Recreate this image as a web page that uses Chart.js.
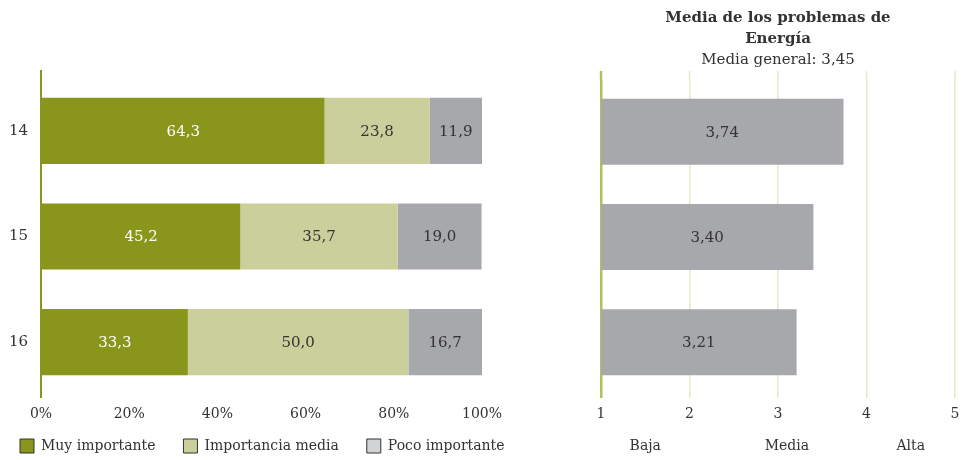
<!DOCTYPE html>
<html>
<head>
<meta charset="utf-8">
<script src="https://cdn.jsdelivr.net/npm/chart.js@4/dist/chart.umd.min.js"></script>
<style>
  html, body { margin: 0; padding: 0; background: #fff; }
  body { width: 962px; height: 460px; position: relative; overflow: hidden; }
  #leftWrap { position: absolute; left: 0; top: 0; width: 525px; height: 460px; }
  #legendWrap { position: absolute; left: 0; top: 340px; width: 560px; height: 120px; }
  #rightWrap { position: absolute; left: 594px; top: 0; width: 368px; height: 460px; }
</style>
</head>
<body>
<div id="leftWrap"><canvas id="left"></canvas></div>
<div id="legendWrap"><canvas id="legend"></canvas></div>
<div id="rightWrap"><canvas id="right"></canvas></div>
<script>
// ---- data ----
const categories = ['14', '15', '16'];
const seriesNames = ['Muy importante', 'Importancia media', 'Poco importante'];
const muyImportante = [64.3, 45.2, 33.3];
const importanciaMedia = [23.8, 35.7, 50.0];
const pocoImportante = [11.9, 19.0, 16.7];
const mediaValues = [3.74, 3.40, 3.21];
const mediaGeneral = 3.45;
const titleLines = ['Media de los problemas de', 'Energía'];
const scaleWords = ['Baja', 'Media', 'Alta'];
const scaleWordPositions = [1.5, 3.1, 4.5];

// ---- style ----
const FONT = 'DejaVu Serif';
const TEXT = '#333333';
const OLIVE = '#8a961b';
const LIGHT = '#cbcf9c';
const GRAY = '#a7a8ab';
const LEGEND_GRAY = '#d2d3d5';
const RIGHT_AXIS = '#b3c05a';
const RIGHT_GRID = '#e4e9c8';

Chart.defaults.font.family = FONT;
Chart.defaults.font.size = 14;
Chart.defaults.color = TEXT;
Chart.defaults.animation = false;
Chart.defaults.responsive = true;
Chart.defaults.maintainAspectRatio = false;

const fmt = (v, d) => v.toFixed(d).replace('.', ',');

// draws values centered in bars
const barLabels = {
  id: 'barLabels',
  afterDatasetsDraw(chart, args, opts) {
    const ctx = chart.ctx;
    const left = chart.chartArea.left;
    ctx.save();
    ctx.font = `${opts.size || 14}px "${FONT}"`;
    ctx.textAlign = 'center';
    ctx.textBaseline = 'middle';
    chart.data.datasets.forEach((ds, di) => {
      const meta = chart.getDatasetMeta(di);
      meta.data.forEach((el, i) => {
        const v = ds.data[i];
        const base = Math.max(el.base, left);
        ctx.fillStyle = (opts.colors && opts.colors[di]) || TEXT;
        ctx.fillText(fmt(v, opts.decimals), (el.x + base) / 2, el.y + 1);
      });
    });
    ctx.restore();
  }
};

// extends vertical grid lines a little above the plot area
const gridExtend = {
  id: 'gridExtend',
  afterDraw(chart, args, opts) {
    const xs = chart.scales.x;
    const ctx = chart.ctx;
    const top = chart.chartArea.top;
    ctx.save();
    xs.ticks.forEach((t) => {
      const c = opts.color(t.value);
      if (!c) return;
      const x = xs.getPixelForValue(t.value);
      ctx.strokeStyle = c;
      ctx.lineWidth = opts.width(t.value);
      ctx.beginPath();
      ctx.moveTo(x, top - 8);
      ctx.lineTo(x, top);
      ctx.stroke();
    });
    ctx.restore();
  }
};

// words under the right axis
const scaleWordsPlugin = {
  id: 'scaleWords',
  afterDraw(chart) {
    const xs = chart.scales.x;
    const ctx = chart.ctx;
    ctx.save();
    ctx.font = `14px "${FONT}"`;
    ctx.fillStyle = TEXT;
    ctx.textAlign = 'center';
    ctx.textBaseline = 'middle';
    scaleWords.forEach((w, i) => {
      ctx.fillText(w, xs.getPixelForValue(scaleWordPositions[i]), 446);
    });
    ctx.restore();
  }
};

// ---- left chart ----
const leftColors = [OLIVE, LIGHT, GRAY];
const legendFills = [OLIVE, LIGHT, LEGEND_GRAY];
const leftDatasets = (hidden) => [muyImportante, importanciaMedia, pocoImportante].map((d, i) => ({
  label: seriesNames[i],
  data: d,
  hidden: hidden,
  backgroundColor: leftColors[i],
  borderWidth: 0,
  barPercentage: 0.626,
  categoryPercentage: 1.0
}));

new Chart(document.getElementById('left'), {
  type: 'bar',
  data: { labels: categories, datasets: leftDatasets(false) },
  options: {
    indexAxis: 'y',
    layout: { padding: { left: 0, right: 43, top: 78, bottom: 0 } },
    scales: {
      x: {
        stacked: true, min: 0, max: 100,
        ticks: { stepSize: 20, padding: 8, callback: (v) => v + '%', font: { size: 14 }, color: TEXT },
        grid: {
          drawTicks: true, tickLength: 3,
          color: (c) => (c.tick && c.tick.value === 0 ? OLIVE : 'rgba(0,0,0,0)'),
          lineWidth: 2
        },
        border: { display: false },
        afterFit: (s) => { s.height = 65; }
      },
      y: {
        stacked: true,
        ticks: { padding: 13, font: { size: 15 }, color: TEXT },
        grid: { display: false, drawTicks: false },
        border: { display: false },
        afterFit: (s) => { s.width = 41; }
      }
    },
    plugins: {
      legend: { display: false },
      tooltip: { enabled: false },
      barLabels: { decimals: 1, colors: ['#ffffff', TEXT, TEXT], size: 15 },
      gridExtend: {
        color: (v) => (v === 0 ? OLIVE : null),
        width: () => 2
      }
    }
  },
  plugins: [barLabels, gridExtend]
});

// ---- legend for the left chart ----
new Chart(document.getElementById('legend'), {
  type: 'bar',
  data: { labels: categories, datasets: leftDatasets(true) },
  options: {
    indexAxis: 'y',
    events: [],
    layout: { padding: { left: -8, right: 0, top: 0, bottom: -3 } },
    scales: { x: { display: false }, y: { display: false } },
    plugins: {
      tooltip: { enabled: false },
      legend: {
        position: 'bottom',
        align: 'start',
        labels: {
          boxWidth: 14, boxHeight: 14, padding: 28,
          font: { size: 14 }, color: TEXT,
          generateLabels: (chart) => chart.data.datasets.map((ds, i) => ({
            text: ds.label, fillStyle: legendFills[i], strokeStyle: '#333333',
            lineWidth: 1, hidden: false, datasetIndex: i, fontColor: TEXT
          }))
        }
      }
    }
  }
});

// ---- right chart ----
new Chart(document.getElementById('right'), {
  type: 'bar',
  data: {
    labels: categories,
    datasets: [{
      label: 'Media',
      data: mediaValues,
      backgroundColor: GRAY,
      borderWidth: 0,
      barPercentage: 0.626,
      categoryPercentage: 1.0
    }]
  },
  options: {
    indexAxis: 'y',
    layout: { padding: { left: 7, right: 7, top: 0, bottom: 0 } },
    scales: {
      x: {
        min: 1, max: 5,
        ticks: { stepSize: 1, padding: 8, font: { size: 14 }, color: TEXT },
        grid: {
          drawTicks: true, tickLength: 3,
          color: (c) => (c.tick && c.tick.value === 1 ? RIGHT_AXIS : RIGHT_GRID),
          lineWidth: (c) => (c.tick && c.tick.value === 1 ? 2.5 : 1.5)
        },
        border: { display: false },
        afterFit: (s) => { s.height = 65; s.paddingLeft = 0; s.paddingRight = 0; }
      },
      y: { display: false }
    },
    plugins: {
      legend: { display: false },
      tooltip: { enabled: false },
      title: {
        display: true,
        text: titleLines,
        font: { size: 15, weight: 'bold', lineHeight: 1.4 },
        color: TEXT,
        padding: { top: 8, bottom: 0 }
      },
      subtitle: {
        display: true,
        text: 'Media general: ' + fmt(mediaGeneral, 2),
        font: { size: 15, lineHeight: 1.4 },
        color: TEXT,
        padding: { top: 0, bottom: 8 }
      },
      barLabels: { decimals: 2, colors: [TEXT], size: 15 },
      gridExtend: {
        color: (v) => (v === 1 ? RIGHT_AXIS : RIGHT_GRID),
        width: (v) => (v === 1 ? 2.5 : 1.5)
      }
    }
  },
  plugins: [barLabels, gridExtend, scaleWordsPlugin]
});
</script>
</body>
</html>
